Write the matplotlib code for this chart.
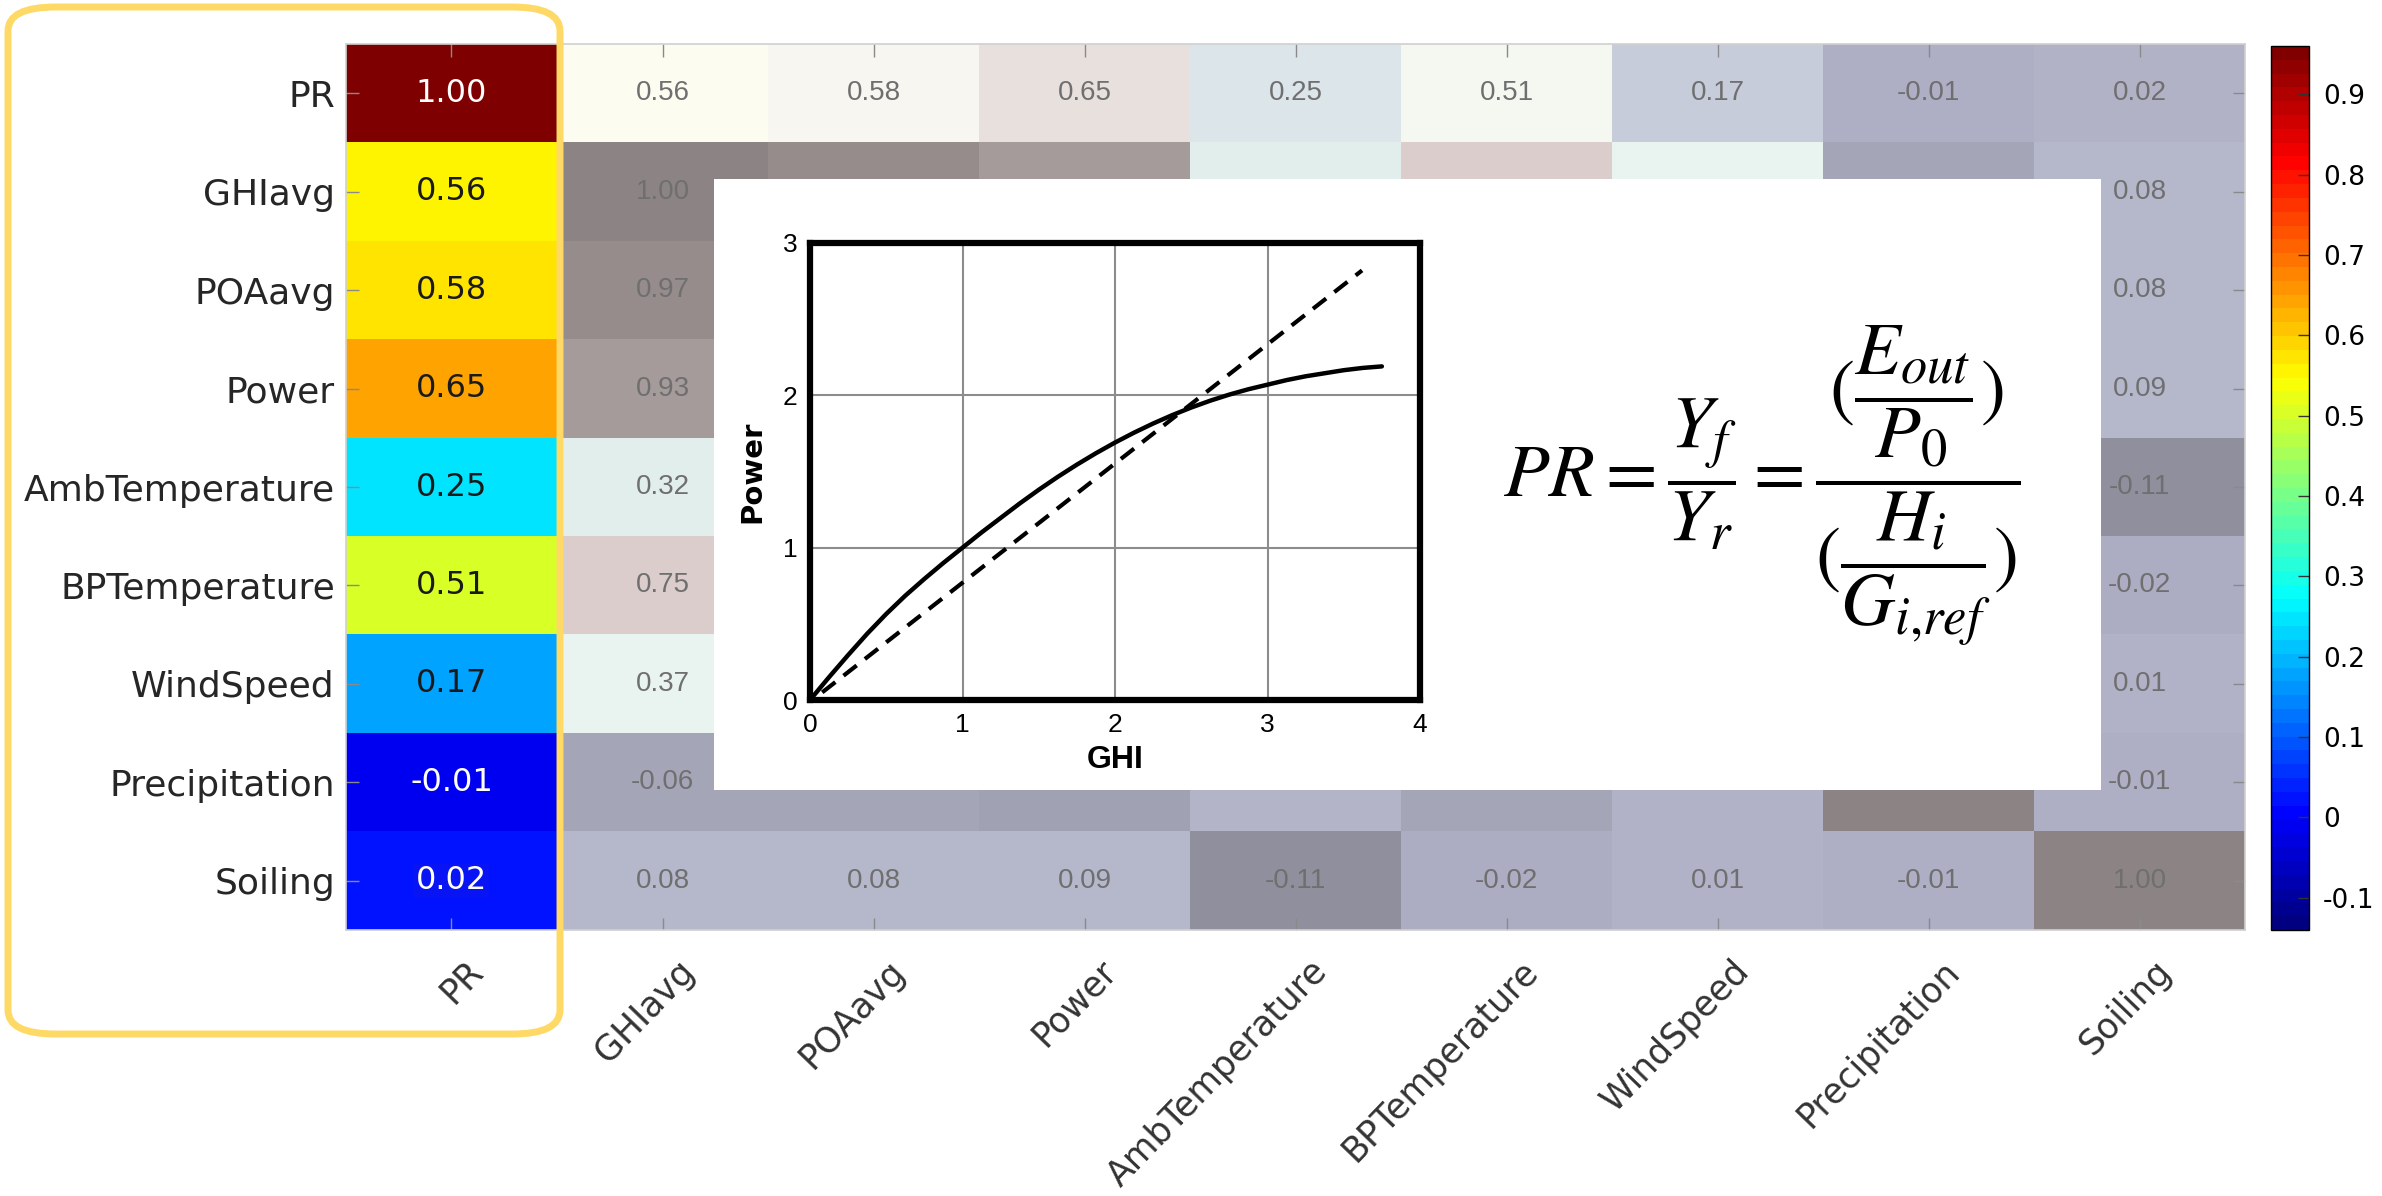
import matplotlib
matplotlib.use("Agg")
import matplotlib.pyplot as plt
import matplotlib.colors as mcolors
import matplotlib.transforms as mtransforms
from matplotlib.cm import ScalarMappable
from matplotlib.patches import FancyBboxPatch, Rectangle
import numpy as np

# Correlation matrix (hidden cells under the inset are estimated).
labels = ["PR", "GHIavg", "POAavg", "Power", "AmbTemperature", "BPTemperature",
          "WindSpeed", "Precipitation", "Soiling"]
row_pr = [1.00, 0.56, 0.58, 0.65, 0.25, 0.51, 0.17, -0.01, 0.02]
row_ghi = [0.56, 1.00, 0.97, 0.93, 0.32, 0.75, 0.37, -0.06, 0.08]
row_poa = [0.58, 0.97, 1.00, 0.96, 0.30, 0.78, 0.35, -0.06, 0.08]
row_power = [0.65, 0.93, 0.96, 1.00, 0.28, 0.80, 0.33, -0.07, 0.09]
row_amb = [0.25, 0.32, 0.30, 0.28, 1.00, 0.62, 0.30, 0.03, -0.11]
row_bp = [0.51, 0.75, 0.78, 0.80, 0.62, 1.00, 0.28, -0.06, -0.02]
row_wind = [0.17, 0.37, 0.35, 0.33, 0.30, 0.28, 1.00, 0.01, 0.01]
row_precip = [-0.01, -0.06, -0.06, -0.07, 0.03, -0.06, 0.01, 1.00, -0.01]
row_soil = [0.02, 0.08, 0.08, 0.09, -0.11, -0.02, 0.01, -0.01, 1.00]
corr = np.array([row_pr, row_ghi, row_poa, row_power, row_amb, row_bp,
                 row_wind, row_precip, row_soil])

cbar_ticks = [-0.1, 0.0, 0.1, 0.2, 0.3, 0.4, 0.5, 0.6, 0.7, 0.8, 0.9]
cbar_ticklabels = ["-0.1", "0", "0.1", "0.2", "0.3", "0.4", "0.5", "0.6", "0.7", "0.8", "0.9"]

# Inset sketch: GHI vs Power curve and the linear reference.
ghi_curve = [0.0, 0.125, 0.25, 0.375, 0.5, 0.625, 0.75, 0.875, 1.0, 1.125, 1.25, 1.375,
             1.5, 1.625, 1.75, 1.875, 2.0, 2.125, 2.25, 2.375, 2.5, 2.625, 2.75, 2.875,
             3.0, 3.125, 3.25, 3.375, 3.5, 3.625, 3.75]
power_curve = [0.0, 0.15, 0.295, 0.435, 0.565, 0.685, 0.795, 0.90, 1.0, 1.10, 1.195, 1.29,
               1.38, 1.465, 1.545, 1.62, 1.69, 1.755, 1.815, 1.87, 1.92, 1.965, 2.005, 2.04,
               2.07, 2.10, 2.125, 2.145, 2.165, 2.18, 2.19]
ghi_linear = [0.08, 3.62]
power_linear = [0.05, 2.82]

# Washed-out palette used for every column except PR.
faded_stops = [
    (-0.14, "#878796"), (-0.11, "#9191a0"), (-0.06, "#a7a7bb"), (-0.01, "#afafc6"),
    (0.03, "#b4b5c9"), (0.09, "#b6b8cc"), (0.17, "#c8cddc"), (0.25, "#dce6eb"),
    (0.32, "#e2eeec"), (0.37, "#eaf4f0"), (0.51, "#f5f9f0"), (0.56, "#fdfdf0"),
    (0.58, "#f8f6f0"), (0.65, "#e8e1de"), (0.75, "#dccdcd"), (0.93, "#a79d9d"),
    (0.97, "#988e8e"), (1.00, "#8c8484"),
]
f_lo, f_hi = faded_stops[0][0], faded_stops[-1][0]
faded_cmap = mcolors.LinearSegmentedColormap.from_list(
    "faded", [((v - f_lo) / (f_hi - f_lo), c) for v, c in faded_stops])
faded_norm = mcolors.Normalize(f_lo, f_hi)

# MATLAB-style jet with 64 steps
jet = mcolors.LinearSegmentedColormap.from_list(
    "mjet", [(0.0, (0, 0, 0.5)), (0.125, (0, 0, 1)), (0.375, (0, 1, 1)),
             (0.625, (1, 1, 0)), (0.875, (1, 0, 0)), (1.0, (0.5, 0, 0))], N=64)
jet_norm = mcolors.Normalize(-0.14, 0.96)

W, H = 2382, 1196
fig = plt.figure(figsize=(W / 100, H / 100), dpi=100)
fig.patch.set_facecolor("white")
plt.rcParams["mathtext.fontset"] = "stix"

def fig_box(x0, y0, x1, y1):
    # pixel box (top-left origin) -> figure fraction rect
    return [x0 / W, 1 - y1 / H, (x1 - x0) / W, (y1 - y0) / H]

HM = (346, 44, 2245, 930)
INSET = (714, 179, 2101, 790)

ax = fig.add_axes(fig_box(*HM))
ax.imshow(corr, cmap=faded_cmap, norm=faded_norm, aspect="auto", interpolation="nearest")
ax.imshow(corr[:, :1], cmap=jet, norm=jet_norm, aspect="auto", interpolation="nearest",
          extent=(-0.5, 0.5, 8.5, -0.5))
ax.set_xlim(-0.5, 8.5)
ax.set_ylim(8.5, -0.5)

narrow = ["Liberation Sans Narrow", "Liberation Sans", "DejaVu Sans"]
n = len(labels)
cw = (HM[2] - HM[0]) / n
ch = (HM[3] - HM[1]) / n
for i in range(n):
    for j in range(n):
        val = corr[i, j]
        cx = HM[0] + (j + 0.5) * cw
        cy = HM[1] + (i + 0.5) * ch
        if INSET[0] < cx < INSET[2] and INSET[1] < cy < INSET[3]:
            continue  # hidden under the white inset
        if j == 0:
            light = val > 0.9 or val < 0.05
            kw = {}
            if i == n - 1:
                kw["bbox"] = dict(boxstyle="square,pad=0.05", fc="#0814f4", ec="none")
            ax.text(j, i, f"{val:.2f}", ha="center", va="center", fontsize=23,
                    color="white" if light else "#1a1a1a", family="DejaVu Sans", **kw)
        else:
            ax.text(j, i, f"{val:.2f}", ha="center", va="center", fontsize=20,
                    color="#6f6f6f", family=narrow)

ax.set_xticks(range(n))
ax.set_yticks(range(n))
ax.set_xticklabels(labels, rotation=46, ha="right", rotation_mode="anchor",
                   fontsize=25, color="#333333")
ax.set_yticklabels(labels, fontsize=26, color="#262626")
ax.tick_params(axis="both", direction="in", length=9, width=1, color="#8a8a8a",
               top=True, right=True)
ax.tick_params(axis="x", pad=17)
ax.tick_params(axis="y", pad=8)
shift = mtransforms.ScaledTranslation(0.14, 0, fig.dpi_scale_trans)
for lab in ax.get_xticklabels():
    lab.set_transform(lab.get_transform() + shift)
for sp in ax.spines.values():
    sp.set_color("#d0d0d0")
    sp.set_linewidth(1.2)

# colour bar
cax = fig.add_axes(fig_box(2271, 46, 2309, 930))
cb = fig.colorbar(ScalarMappable(norm=jet_norm, cmap=jet), cax=cax, ticks=cbar_ticks)
cb.ax.set_yticklabels(cbar_ticklabels)
cb.ax.tick_params(direction="in", length=8, width=1, labelsize=19, color="#333333", pad=10)
cb.outline.set_linewidth(1)

# white inset with sketch + formula
fig.add_artist(Rectangle((INSET[0] / W, 1 - INSET[3] / H), (INSET[2] - INSET[0]) / W,
                         (INSET[3] - INSET[1]) / H, transform=fig.transFigure,
                         facecolor="white", edgecolor="none", zorder=5))

iax = fig.add_axes(fig_box(810, 243, 1420, 700), zorder=6)
iax.plot(ghi_curve, power_curve, color="black", lw=3.2, solid_capstyle="round")
iax.plot(ghi_linear, power_linear, color="black", lw=3.0, ls=(0, (4, 2.5)))
iax.set_xlim(0, 4)
iax.set_ylim(0, 3)
iax.set_xticks([0, 1, 2, 3, 4])
iax.set_yticks([0, 1, 2, 3])
iax.grid(True, color="#8c8c8c", lw=1.5)
iax.tick_params(length=0, labelsize=19, pad=9)
for lab in iax.get_xticklabels() + iax.get_yticklabels():
    lab.set_family(narrow)
for sp in iax.spines.values():
    sp.set_linewidth(4.5)
iax.set_xlabel("GHI", fontsize=23, fontweight="bold", family=narrow, labelpad=6)
iax.set_ylabel("Power", fontsize=21, fontweight="bold", labelpad=12)

formula = (r"$PR=\dfrac{Y_f}{Y_r}=\dfrac{(\dfrac{E_{out}}{P_0})}"
           r"{(\dfrac{H_i}{G_{i{,}ref}})}$")
fig.text(1762 / W, 1 - 486 / H, formula, ha="center", va="center", fontsize=54, zorder=7)

# rounded highlight around the PR column
fig.add_artist(FancyBboxPatch((8 / W, 1 - 1034 / H), 552 / W, 1027 / H,
                              boxstyle="round,pad=0,rounding_size=0.02",
                              transform=fig.transFigure, facecolor="none",
                              edgecolor="#ffd966", lw=5, zorder=10))

fig.savefig("out.png", dpi=100)
